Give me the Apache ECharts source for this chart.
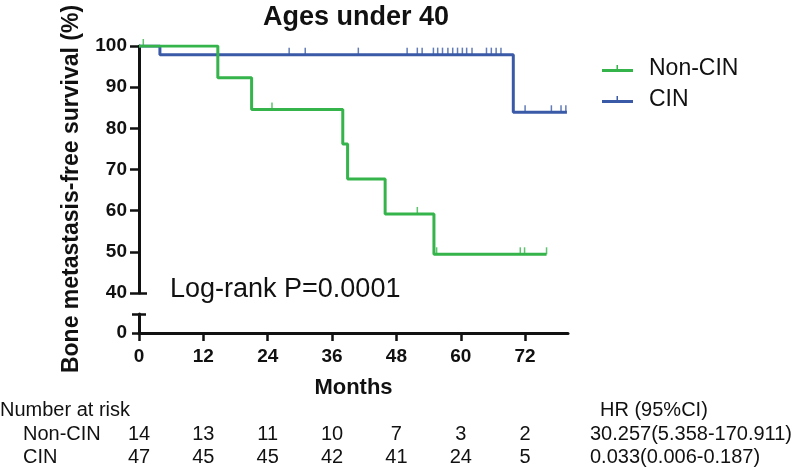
<!DOCTYPE html>
<html><head><meta charset="utf-8">
<script src="https://cdn.jsdelivr.net/npm/echarts@6/dist/echarts.min.js"></script>
<style>html,body{margin:0;padding:0;background:#fff}#c{width:800px;height:470px}</style>
</head><body><div id="c"></div><script>
const monthTicks = [0, 12, 24, 36, 48, 60, 72];
const nonCinTimes = [0, 14.7, 21.0, 38.0, 38.9, 45.9, 55.0, 76.0];
const nonCinSurv = [100, 92.3, 84.6, 76.2, 67.7, 59.2, 49.4, 49.4];
const nonCinCensor = [0.8, 24.8, 51.9, 55.5, 71.1, 71.9, 76.0];
const cinTimes = [0, 3.9, 69.8, 79.8];
const cinSurv = [100, 97.9, 83.9, 83.9];
const cinCensor = [28.0, 31.0, 40.9, 50.0, 51.9, 52.8, 54.9, 55.7, 56.6, 57.6, 58.5, 59.4, 60.3, 61.1, 62.1, 64.8, 65.7, 66.6, 67.5, 72.0, 76.9, 78.7, 79.6];
const riskNonCin = [14, 13, 11, 10, 7, 3, 2];
const riskCin = [47, 45, 45, 42, 41, 24, 5];
const groupNames = ['Non-CIN', 'CIN'];
const hrValues = ['30.257(5.358-170.911)', '0.033(0.006-0.187)'];

const GREEN = '#34b44a', BLUE = '#3a5aa8', INK = '#111111';
const FONT = 'Liberation Sans, Arial, Helvetica, sans-serif';

function levelAt(times, surv, t) {
  let s = surv[0];
  for (let i = 0; i < times.length; i++) if (times[i] <= t) s = surv[i];
  return s;
}
const zip = (a, b) => a.map((v, i) => [v, b[i]]);

const chart = echarts.init(document.getElementById('c'), null, {renderer: 'canvas'});
const axisLine = {show: true, lineStyle: {color: INK, width: 3}};
const tickStyle = {color: INK, width: 2.5};
const tickFont = {fontSize: 19, fontWeight: 'bold', color: INK, fontFamily: FONT};

const option = {
  animation: false,
  backgroundColor: '#fff',
  textStyle: {fontFamily: FONT},
  title: {text: 'Ages under 40', left: 258, top: -1,
    textStyle: {fontSize: 27, fontWeight: 'bold', color: INK, fontFamily: FONT}},
  legend: {
    orient: 'vertical', left: 597, top: 52, itemWidth: 31, itemHeight: 8, itemGap: 8,
    textStyle: {fontSize: 23, color: INK, fontFamily: FONT, padding: [0, 0, 0, 11]},
    data: [
      {name: 'Non-CIN', icon: 'path://M0,5 L31,5 L31,8 L0,8 Z M14.5,1 L16,1 L16,5 L14.5,5 Z'},
      {name: 'CIN', icon: 'path://M0,5 L31,5 L31,8 L0,8 Z M14.5,1 L16,1 L16,5 L14.5,5 Z'}
    ]
  },
  grid: [
    {left: 139, right: 232, top: 46, height: 247},
    {left: 139, right: 232, top: 314, height: 19},
    {left: 139, right: 232, top: 434, height: 23}
  ],
  xAxis: [
    {gridIndex: 0, type: 'value', min: 0, max: 80, show: false},
    {gridIndex: 1, type: 'value', min: 0, max: 80, interval: 12,
      axisLine: axisLine,
      axisTick: {show: true, length: 8, lineStyle: tickStyle, customValues: monthTicks},
      axisLabel: Object.assign({customValues: monthTicks, margin: 14}, tickFont),
      splitLine: {show: false},
      name: 'Months', nameLocation: 'middle', nameGap: 44,
      nameTextStyle: {fontSize: 22, fontWeight: 'bold', color: INK, fontFamily: FONT}},
    {gridIndex: 2, type: 'value', min: 0, max: 80, show: false}
  ],
  yAxis: [
    {gridIndex: 0, type: 'value', position: 'left', min: 40, max: 100, interval: 10,
      axisLine: axisLine,
      axisTick: {show: true, length: 9, lineStyle: tickStyle},
      axisLabel: Object.assign({margin: 12}, tickFont),
      splitLine: {show: false}},
    {gridIndex: 0, type: 'value', position: 'left', min: 40, max: 100, interval: 10,
      axisLine: {show: false},
      axisTick: {show: true, inside: true, length: 8, lineStyle: tickStyle, customValues: [40]},
      axisLabel: {show: false}, splitLine: {show: false}},
    {gridIndex: 1, type: 'value', position: 'left', min: 0, max: 5, interval: 5,
      axisLine: axisLine,
      axisTick: {show: true, length: 7, lineStyle: tickStyle, customValues: [0, 5]},
      axisLabel: Object.assign({customValues: [0], margin: 12}, tickFont),
      splitLine: {show: false}},
    {gridIndex: 1, type: 'value', position: 'left', min: 0, max: 5, interval: 5,
      axisLine: {show: false},
      axisTick: {show: true, inside: true, length: 7, lineStyle: tickStyle, customValues: [5]},
      axisLabel: {show: false}, splitLine: {show: false}},
    {gridIndex: 2, type: 'value', min: 0, max: 1, show: false}
  ],
  graphic: [
    {type: 'text', x: 72, y: 189, rotation: Math.PI / 2,
      style: {text: 'Bone metastasis-free survival (%)', fontSize: 23, fontWeight: 'bold', fill: INK,
        fontFamily: FONT, align: 'center', verticalAlign: 'middle'}},
    {type: 'text', x: 170, y: 290,
      style: {text: 'Log-rank P=0.0001', fontSize: 27, fill: INK, fontFamily: FONT, align: 'left', verticalAlign: 'middle'}},
    {type: 'text', x: 0, y: 410,
      style: {text: 'Number at risk', fontSize: 20, fill: INK, fontFamily: FONT, align: 'left', verticalAlign: 'middle'}},
    {type: 'text', x: 23, y: 434,
      style: {text: groupNames[0], fontSize: 20, fill: INK, fontFamily: FONT, align: 'left', verticalAlign: 'middle'}},
    {type: 'text', x: 23, y: 457,
      style: {text: groupNames[1], fontSize: 20, fill: INK, fontFamily: FONT, align: 'left', verticalAlign: 'middle'}},
    {type: 'text', x: 600, y: 410,
      style: {text: 'HR (95%CI)', fontSize: 20, fill: INK, fontFamily: FONT, align: 'left', verticalAlign: 'middle'}},
    {type: 'text', x: 590, y: 434,
      style: {text: hrValues[0], fontSize: 20, fill: INK, fontFamily: FONT, align: 'left', verticalAlign: 'middle'}},
    {type: 'text', x: 590, y: 457,
      style: {text: hrValues[1], fontSize: 20, fill: INK, fontFamily: FONT, align: 'left', verticalAlign: 'middle'}}
  ],
  series: [
    {name: 'CIN', type: 'line', xAxisIndex: 0, yAxisIndex: 0, step: 'end', symbol: 'none',
      color: BLUE, lineStyle: {color: BLUE, width: 3}, data: zip(cinTimes, cinSurv), z: 2},
    {name: 'Non-CIN', type: 'line', xAxisIndex: 0, yAxisIndex: 0, step: 'end', symbol: 'none',
      color: GREEN, lineStyle: {color: GREEN, width: 3}, data: zip(nonCinTimes, nonCinSurv), z: 3},
    {name: 'CIN censored', type: 'scatter', xAxisIndex: 0, yAxisIndex: 0, symbol: 'rect',
      symbolSize: [1.5, 7], symbolOffset: [0, -3.5], itemStyle: {color: BLUE}, z: 2,
      data: cinCensor.map(t => [t, levelAt(cinTimes, cinSurv, t)])},
    {name: 'Non-CIN censored', type: 'scatter', xAxisIndex: 0, yAxisIndex: 0, symbol: 'rect',
      symbolSize: [1.5, 7], symbolOffset: [0, -3.5], itemStyle: {color: GREEN}, z: 3,
      data: nonCinCensor.map(t => [t, levelAt(nonCinTimes, nonCinSurv, t)])},
    {name: 'risk Non-CIN', type: 'scatter', xAxisIndex: 2, yAxisIndex: 4, symbolSize: 0,
      itemStyle: {color: '#ffffff', opacity: 1},
      label: {show: true, position: 'inside', formatter: p => String(p.value[2]), fontSize: 20, color: INK, fontFamily: FONT},
      data: monthTicks.map((t, i) => [t, 1, riskNonCin[i]])},
    {name: 'risk CIN', type: 'scatter', xAxisIndex: 2, yAxisIndex: 4, symbolSize: 0,
      itemStyle: {color: '#ffffff', opacity: 1},
      label: {show: true, position: 'inside', formatter: p => String(p.value[2]), fontSize: 20, color: INK, fontFamily: FONT},
      data: monthTicks.map((t, i) => [t, 0, riskCin[i]])}
  ]
};
chart.setOption(option);
</script></body></html>
